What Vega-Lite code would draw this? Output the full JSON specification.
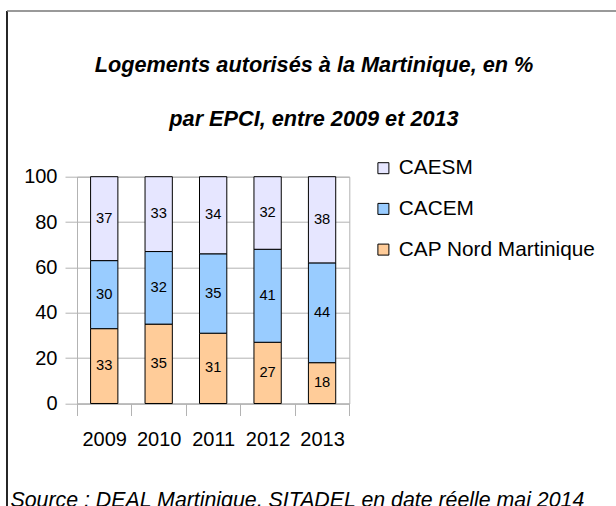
{
  "$schema": "https://vega.github.io/schema/vega-lite/v6.json",
  "width": 272.3,
  "height": 226.8,
  "autosize": {"type": "none"},
  "padding": {"left": 77, "top": 176.7, "right": 266.7, "bottom": 102.5},
  "background": "white",
  "config": {
    "font": "Liberation Sans",
    "view": {"stroke": "#b3b3b3", "strokeWidth": 1}
  },
  "title": {
    "text": ["Logements autorisés à la Martinique, en %", "par EPCI, entre 2009 et 2013"],
    "font": "Liberation Sans",
    "fontSize": 21.7,
    "fontStyle": "italic",
    "fontWeight": "bold",
    "color": "black",
    "lineHeight": 54,
    "anchor": "middle",
    "frame": "group",
    "baseline": "top",
    "offset": -121,
    "dx": 100.85
  },
  "data": {
    "values": [
      {"year": 2009, "series": "CAP Nord Martinique", "value": 33, "rank": 1},
      {"year": 2009, "series": "CACEM", "value": 30, "rank": 2},
      {"year": 2009, "series": "CAESM", "value": 37, "rank": 3},
      {"year": 2010, "series": "CAP Nord Martinique", "value": 35, "rank": 1},
      {"year": 2010, "series": "CACEM", "value": 32, "rank": 2},
      {"year": 2010, "series": "CAESM", "value": 33, "rank": 3},
      {"year": 2011, "series": "CAP Nord Martinique", "value": 31, "rank": 1},
      {"year": 2011, "series": "CACEM", "value": 35, "rank": 2},
      {"year": 2011, "series": "CAESM", "value": 34, "rank": 3},
      {"year": 2012, "series": "CAP Nord Martinique", "value": 27, "rank": 1},
      {"year": 2012, "series": "CACEM", "value": 41, "rank": 2},
      {"year": 2012, "series": "CAESM", "value": 32, "rank": 3},
      {"year": 2013, "series": "CAP Nord Martinique", "value": 18, "rank": 1},
      {"year": 2013, "series": "CACEM", "value": 44, "rank": 2},
      {"year": 2013, "series": "CAESM", "value": 38, "rank": 3}
    ]
  },
  "layer": [
    {
      "data": {"values": [{}]},
      "mark": {"type": "rule", "color": "black", "strokeWidth": 1.7, "clip": false},
      "encoding": {
        "x": {"datum": 2007.2146, "type": "quantitative", "scale": {"domain": [2008.5, 2013.5], "nice": false, "zero": false, "padding": 0}},
        "y": {"datum": 173.06, "type": "quantitative", "scale": {"domain": [0, 100], "nice": false, "zero": false, "padding": 0}},
        "y2": {"datum": -60}
      }
    },
    {
      "data": {"values": [{}]},
      "mark": {"type": "rule", "color": "#777777", "strokeWidth": 1.6, "clip": false},
      "encoding": {
        "x": {"datum": 2007.2146, "type": "quantitative", "scale": {"domain": [2008.5, 2013.5], "nice": false, "zero": false, "padding": 0}},
        "x2": {"datum": 2019.5},
        "y": {"datum": 173.06, "type": "quantitative", "scale": {"domain": [0, 100], "nice": false, "zero": false, "padding": 0}}
      }
    },
    {
      "mark": {"type": "bar", "orient": "vertical", "width": 27.3, "stroke": "black", "strokeWidth": 1},
      "encoding": {
        "x": {
          "field": "year", "type": "quantitative",
          "scale": {"domain": [2008.5, 2013.5], "nice": false, "zero": false, "padding": 0},
          "axis": {
            "values": [2008.5, 2009.5, 2010.5, 2011.5, 2012.5, 2013.5],
            "domain": true,
            "domainColor": "#b3b3b3",
            "grid": false,
            "tickSize": 12,
            "tickColor": "#b3b3b3",
            "format": ".0f",
            "labelOffset": 27.23,
            "labelOpacity": {"condition": {"test": "datum.value > 2013", "value": 0}, "value": 1},
            "labelFont": "Liberation Sans",
            "labelFontSize": 20,
            "labelColor": "black",
            "labelPadding": 13.7,
            "labelOverlap": false,
            "labelFlush": false,
            "labelBound": false,
            "title": "Source : DEAL Martinique, SITADEL en date réelle mai 2014",
            "titleFont": "Liberation Sans",
            "titleFontSize": 21.33,
            "titleFontStyle": "italic",
            "titleFontWeight": "normal",
            "titleColor": "black",
            "titleX": -67,
            "titleY": 102.8,
            "titleAlign": "left",
            "titleAnchor": "start",
            "titleBaseline": "alphabetic"
          }
        },
        "y": {
          "field": "value", "type": "quantitative", "stack": "zero",
          "scale": {"domain": [0, 100], "nice": false, "zero": false, "padding": 0},
          "axis": {
            "values": [0, 20, 40, 60, 80, 100],
            "domain": true,
            "domainColor": "#b3b3b3",
            "grid": true,
            "gridColor": "#b3b3b3",
            "tickSize": 12,
            "tickColor": "#b3b3b3",
            "labelFont": "Liberation Sans",
            "labelFontSize": 20,
            "labelColor": "black",
            "labelPadding": 8,
            "labelOverlap": false,
            "labelFlush": false,
            "labelBound": false,
            "title": null
          }
        },
        "color": {
          "field": "series", "type": "nominal",
          "scale": {"domain": ["CAESM", "CACEM", "CAP Nord Martinique"], "range": ["#e6e6ff", "#99ccff", "#ffcc99"]},
          "legend": {
            "orient": "none",
            "legendX": 296,
            "legendY": -18.9,
            "title": null,
            "padding": 0,
            "symbolType": "square",
            "symbolSize": 121,
            "symbolStrokeColor": "black",
            "symbolStrokeWidth": 1,
            "symbolOpacity": 1,
            "labelFont": "Liberation Sans",
            "labelFontSize": 20.8,
            "labelColor": "black",
            "labelOffset": 5,
            "labelLimit": 400,
            "rowPadding": 18.7
          }
        },
        "order": {"field": "rank", "type": "quantitative"}
      }
    },
    {
      "transform": [
        {"stack": "value", "groupby": ["year"], "sort": [{"field": "rank", "order": "ascending"}], "as": ["v0", "v1"]},
        {"fold": ["v0", "v1"], "as": ["end", "pos"]},
        {"aggregate": [{"op": "mean", "field": "pos", "as": "mid"}], "groupby": ["year", "series", "value"]}
      ],
      "mark": {"type": "text", "fontSize": 14.7, "baseline": "middle", "align": "center", "color": "black", "font": "Liberation Sans"},
      "encoding": {
        "x": {"field": "year", "type": "quantitative", "scale": {"domain": [2008.5, 2013.5], "nice": false, "zero": false, "padding": 0}},
        "y": {"field": "mid", "type": "quantitative", "scale": {"domain": [0, 100], "nice": false, "zero": false, "padding": 0}},
        "text": {"field": "value", "type": "quantitative"}
      }
    }
  ]
}
